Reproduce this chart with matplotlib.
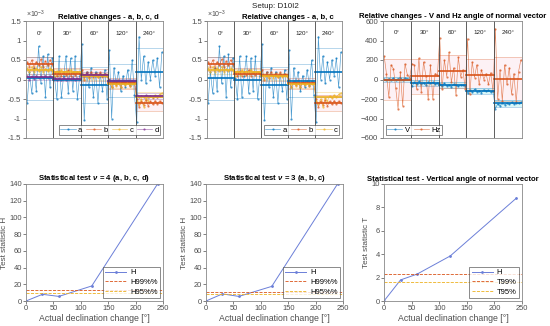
import numpy as np
import matplotlib
matplotlib.use('Agg')
import matplotlib.pyplot as plt

# ---- data (top panels, 12 samples per declination step) ----
steps = ['0°', '30°', '60°', '120°', '240°']
nper = 12

a_vals = [-0.6, 0.2, -0.35, 0.3, -0.3, 0.85, -0.1, 0.6, -0.45, 0.65, -0.2, 0.55,
          0.05, -0.5, 0.6, -0.45, 0.1, 0.6, -0.35, 0.55, -0.3, 0.6, -0.5, 0.1,
          0.9, -1.05, 0.2, -0.2, 0.3, -0.45, 0.2, -0.6, 0.15, -0.3, 0.25, -0.5,
          0.75, -1.0, 0.3, -0.1, 0.2, -0.3, 0.1, -0.2, 0.25, -0.15, 0.5, -0.4,
          -1.1, 1.1, 0.0, 0.6, -0.1, 0.45, 0.0, 0.5, 0.1, 0.55, -0.2, 0.7]
b_vals = [0.45, 0.33, 0.5, 0.3, 0.46, 0.36, 0.52, 0.33, 0.47, 0.36, 0.5, 0.4,
          0.2, 0.08, 0.22, 0.1, 0.2, 0.12, 0.24, 0.1, 0.19, 0.12, 0.2, 0.15,
          0.25, 0.0, 0.18, 0.05, 0.2, 0.08, 0.16, 0.06, 0.18, 0.1, 0.15, 0.1,
          0.0, -0.2, -0.05, -0.15, -0.02, -0.18, -0.06, -0.12, -0.03, -0.16, -0.05, -0.1,
          -0.5, -0.7, -0.55, -0.65, -0.52, -0.68, -0.56, -0.64, -0.54, -0.62, -0.55, -0.6]
c_vals = [0.3, 0.18, 0.32, 0.2, 0.3, 0.22, 0.33, 0.2, 0.28, 0.22, 0.3, 0.25,
          0.1, 0.22, 0.12, 0.25, 0.15, 0.22, 0.14, 0.25, 0.16, 0.2, 0.18, 0.2,
          0.12, 0.02, 0.1, 0.04, 0.12, 0.05, 0.1, 0.06, 0.12, 0.07, 0.1, 0.08,
          -0.05, -0.18, -0.08, -0.16, -0.1, -0.2, -0.08, -0.14, -0.1, -0.16, -0.12, -0.1,
          -0.55, -0.62, -0.5, -0.7, -0.48, -0.55, -0.42, -0.48, -0.4, -0.45, -0.38, -0.35]
d_vals = [0.1, 0.0, 0.08, 0.02, 0.1, 0.03, 0.08, 0.05, 0.1, 0.04, 0.08, 0.05,
          0.05, -0.02, 0.04, 0.0, 0.05, -0.01, 0.04, 0.01, 0.05, 0.0, 0.03, 0.02,
          0.15, 0.08, 0.16, 0.1, 0.14, 0.09, 0.15, 0.11, 0.14, 0.1, 0.13, 0.12,
          -0.02, -0.08, -0.03, -0.07, -0.04, -0.06, -0.03, -0.07, -0.05, -0.06, -0.04, -0.05,
          -0.4, -0.46, -0.42, -0.45, -0.41, -0.44, -0.43, -0.45, -0.42, -0.44, -0.43, -0.43]

a_mean = [0.03, 0.0, -0.15, -0.03, 0.18]
b_mean = [0.4, 0.15, 0.12, -0.1, -0.6]
c_mean = [0.25, 0.18, 0.08, -0.12, -0.45]
d_mean = [0.07, 0.02, 0.12, -0.05, -0.43]
a_band = [0.55, 0.47, 0.46, 0.42, 0.62]
b_band = [0.18, 0.15, 0.15, 0.15, 0.2]
c_band = [0.1, 0.08, 0.08, 0.1, 0.12]
d_band = [0.08, 0.06, 0.06, 0.06, 0.08]

V_vals = [5, -10, 10, 0, 15, -5, 10, 20, 0, 15, 10, 5,
          -70, -30, -50, -20, -45, -35, -60, -25, -40, -30, -50, -35,
          -50, -70, -40, -65, -55, -75, -50, -60, -70, -55, -60, -65,
          -140, -110, -130, -100, -125, -115, -135, -105, -120, -110, -130, -120,
          -300, -250, -270, -240, -260, -245, -255, -235, -250, -240, -245, -235]
Hz_vals = [240, 60, -180, 150, 110, -90, -300, 80, -270, 160, 50, 20,
           160, 150, -100, 220, -130, 180, 40, -200, 150, -200, 60, 50,
           430, -100, 200, 30, 280, -30, 120, -160, 230, 30, 100, -100,
           420, -150, 180, 20, 150, -50, 100, 0, 60, -50, 70, -120,
           520, -200, 100, -220, 150, -50, 120, -150, 60, -230, 80, 200]
V_mean = [0, -40, -60, -120, -245]
Hz_mean = [0, 32, 85, 50, 5]
V_band = [30, 30, 30, 30, 35]
Hz_band = [207, 178, 170, 160, 230]

# ---- data (bottom panels) ----
decl = [0, 30, 60, 120, 240]
H4 = [0, 8, 5.5, 18, 140]
H3 = [0, 8.5, 5.5, 17.5, 140]
T1 = [0, 1.8, 2.3, 3.85, 8.8]
H4_99, H4_95 = 13.28, 9.49
H3_99, H3_95 = 11.34, 7.81
T_99, T_95 = 2.33, 1.64

C_A, C_B, C_C, C_D = '#0072BD', '#D95319', '#EDB120', '#7E2F8E'
AX = '#4d4d4d'

plt.rcParams['font.family'] = ['Liberation Sans', 'DejaVu Sans']
plt.rcParams['mathtext.fontset'] = 'custom'
plt.rcParams['mathtext.it'] = 'Liberation Sans:italic:bold'
plt.rcParams['mathtext.rm'] = 'Liberation Sans'
plt.rcParams['font.size'] = 5.6
plt.rcParams['axes.edgecolor'] = '#888888'
plt.rcParams['xtick.color'] = AX
plt.rcParams['ytick.color'] = AX
plt.rcParams['axes.linewidth'] = 0.6

fig = plt.figure(figsize=(5.5, 3.26), dpi=100)
W, Hh = 550.0, 326.0


def px_axes(x0, x1, y0, y1):
    return fig.add_axes([x0 / W, (Hh - y1) / Hh, (x1 - x0) / W, (y1 - y0) / Hh])


x = np.arange(1, len(a_vals) + 1)
LEG = dict(fontsize=5.5, frameon=True, fancybox=False, edgecolor='#333333', handlelength=2.0,
           columnspacing=0.5, handletextpad=0.3, borderpad=0.2, borderaxespad=0.35)


def seg_panel(ax, series, ylim, lab_y, fill_b=None, fill_a=None):
    nseg = len(steps)
    handles = []
    for k in range(nseg):
        x0, x1 = k * nper + 0.5, (k + 1) * nper + 0.5
        if fill_b is not None:
            m, hw = fill_b
            ax.fill_between([x0, x1], m[k] - hw[k], m[k] + hw[k], color='#f9d3de', alpha=0.3, lw=0)
        if fill_a is not None:
            m, hw = fill_a
            ax.fill_between([x0, x1], m[k] - hw[k], m[k] + hw[k], color='#b5f0f3', alpha=0.5, lw=0)
        for vals, mean, band, col, lab in series:
            ax.plot([x0, x1], [mean[k] + band[k]] * 2, color=col, lw=0.5, alpha=0.4)
            ax.plot([x0, x1], [mean[k] - band[k]] * 2, color=col, lw=0.5, alpha=0.4)
    for vals, mean, band, col, lab in series:
        h, = ax.plot(x, vals, '.-', color=col, lw=0.45, ms=1.2, alpha=0.7, label=lab)
        handles.append(h)
    for vals, mean, band, col, lab in series:
        for k in range(nseg):
            ax.plot([k * nper + 0.5, (k + 1) * nper + 0.5], [mean[k]] * 2, color=col, lw=1.2)
    for k in range(1, nseg):
        ax.axvline(k * nper + 0.5, color='#444444', lw=0.6)
    for k in range(nseg):
        ax.text((k + 0.5) * nper + 0.5, lab_y, steps[k], ha='center', va='center', fontsize=4.5, color='#222222')
    ax.set_xlim(0.5, len(x) + 0.5)
    ax.set_ylim(*ylim)
    ax.set_xticks([])
    ax.tick_params(length=2, width=0.5, pad=1.5)
    return handles


# top-left
ax1 = px_axes(26, 163, 21, 138)
hs = seg_panel(ax1, [(a_vals, a_mean, a_band, C_A, 'a'), (b_vals, b_mean, b_band, C_B, 'b'),
                     (c_vals, c_mean, c_band, C_C, 'c'), (d_vals, d_mean, d_band, C_D, 'd')],
               (-1.5, 1.5), 1.19, fill_b=(b_mean, b_band))
ax1.set_yticks([-1.5, -1, -0.5, 0, 0.5, 1, 1.5])
ax1.set_yticklabels(['-1.5', '-1', '-0.5', '0', '0.5', '1', '1.5'])
ax1.legend(handles=hs, ncol=4, loc='lower right', **LEG).get_frame().set_linewidth(0.5)
ax1.text(0.0, 1.005, r'$\times$10$^{-3}$', transform=ax1.transAxes, fontsize=5, color=AX, va='bottom')
ax1.set_title('Relative changes - a, b, c, d', fontsize=5.6, fontweight='bold', pad=1.5, x=0.6)

# top-middle
ax2 = px_axes(207, 342, 21, 138)
hs = seg_panel(ax2, [(a_vals, a_mean, a_band, C_A, 'a'), (b_vals, b_mean, b_band, C_B, 'b'),
                     (c_vals, c_mean, c_band, C_C, 'c')],
               (-1.5, 1.5), 1.19, fill_b=(b_mean, b_band))
ax2.set_yticks([-1.5, -1, -0.5, 0, 0.5, 1, 1.5])
ax2.set_yticklabels(['-1.5', '-1', '-0.5', '0', '0.5', '1', '1.5'])
ax2.legend(handles=hs, ncol=3, loc='lower right', **LEG).get_frame().set_linewidth(0.5)
ax2.text(0.0, 1.005, r'$\times$10$^{-3}$', transform=ax2.transAxes, fontsize=5, color=AX, va='bottom')
ax2.set_title('Relative changes - a, b, c', fontsize=5.6, fontweight='bold', pad=1.5, x=0.6)

# top-right
ax3 = px_axes(383, 522, 21, 138)
hs = seg_panel(ax3, [(V_vals, V_mean, V_band, C_A, 'V'), (Hz_vals, Hz_mean, Hz_band, C_B, 'Hz')],
               (-600, 600), 477, fill_b=(Hz_mean, Hz_band), fill_a=(V_mean, V_band))
ax3.set_yticks(np.arange(-600, 601, 200))
ax3.legend(handles=hs, ncol=2, loc='lower left', **LEG).get_frame().set_linewidth(0.5)
ax3.set_title('Relative changes - V and Hz angle of normal vector', fontsize=5.6, fontweight='bold', pad=2.5)

fig.text(0.5, 0.992, 'Setup: D10I2', ha='center', va='top', fontsize=5.8, color='#222222')


def stat_panel(ax, yv, t99, t95, ylim, yticks, title, ylabel, labs, lab_x):
    ax.plot(decl, yv, '.-', color='#6b7fd8', lw=0.7, ms=2, label=labs[0])
    ax.axhline(t99, color=C_B, lw=0.6, ls='--', label=labs[1])
    ax.axhline(t95, color=C_C, lw=0.6, ls='--', label=labs[2])
    ax.set_xlim(0, 250)
    ax.set_ylim(*ylim)
    ax.set_yticks(yticks)
    ax.set_xticks([0, 50, 100, 150, 200, 250])
    ax.tick_params(length=2, width=0.5, pad=1.0, labelsize=5.4)
    ax.set_title(title, fontsize=5.6, fontweight='bold', pad=2.5)
    ax.set_xlabel('Actual declination change [°]', fontsize=6.3, color=AX, labelpad=1.5)
    ax.set_ylabel(ylabel, fontsize=5.9, color=AX)
    ax.yaxis.set_label_coords(lab_x, 0.5)
    lg = ax.legend(loc='lower right', fontsize=5.5, frameon=True, fancybox=False, edgecolor='#333333',
                   handlelength=2.8, handletextpad=0.5, borderpad=0.3, labelspacing=0.3, borderaxespad=0.4)
    lg.get_frame().set_linewidth(0.5)


ax4 = px_axes(26, 163, 184, 301)
stat_panel(ax4, H4, H4_99, H4_95, (0, 140), np.arange(0, 141, 20),
           r'Statistical test $\nu$ = 4 (a, b, c, d)', 'Test statistic H', ['H', 'H99%%', 'H95%%'], -0.13)
ax5 = px_axes(206, 343, 184, 301)
stat_panel(ax5, H3, H3_99, H3_95, (0, 140), np.arange(0, 141, 20),
           r'Statistical test $\nu$ = 3 (a, b, c)', 'Test statistic H', ['H', 'H99%%', 'H95%%'], -0.13)
ax6 = px_axes(384, 522, 184, 301)
stat_panel(ax6, T1, T_99, T_95, (0, 10), np.arange(0, 11, 2),
           'Statistical test - Vertical angle of normal vector', 'Test statistic T', ['H', 'T99%', 'T95%'], -0.1)

fig.savefig('out.png', dpi=100)
